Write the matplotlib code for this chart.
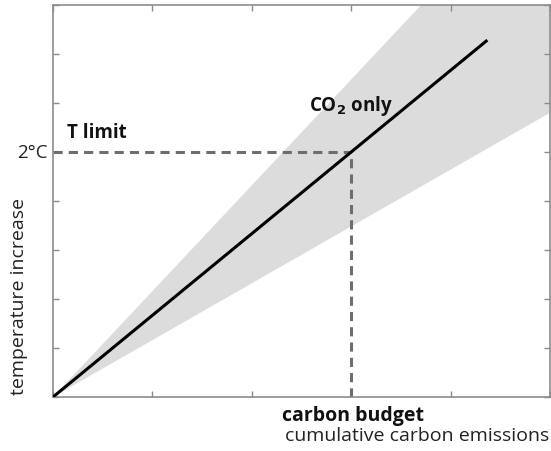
import numpy as np
import matplotlib
matplotlib.use("Agg")
import matplotlib.pyplot as plt

plt.rcParams['font.family'] = ['Open Sans', 'DejaVu Sans']

# data (conceptual chart, in axis units)
x_max, y_max = 5, 8
co2_line_x = [0, 4.37]
co2_slope = 5 / 3
band_x = [0, 5]
band_upper_slope = 2.16
band_lower_slope = 1.16
t_limit = 5
carbon_budget = 3
x_ticks = [0, 1, 2, 3, 4, 5]
y_ticks = [0, 1, 2, 3, 4, 5, 6, 7, 8]

fig = plt.figure(figsize=(5.51, 4.52), dpi=100)
ax = fig.add_axes([53/551, 54/452, 497/551, 392/452])

bx = np.array(band_x, dtype=float)
ax.fill_between(bx, bx * band_lower_slope, bx * band_upper_slope,
                color='#dcdcdc', linewidth=0, zorder=1)
lx = np.array(co2_line_x, dtype=float)
ax.plot(lx, lx * co2_slope, color='black', linewidth=2.2, zorder=3,
        solid_capstyle='butt')

ax.plot([0, carbon_budget], [t_limit, t_limit], color='#6e6e6e',
        linewidth=2.2, dashes=(3, 2), zorder=2)
ax.plot([carbon_budget, carbon_budget], [0, t_limit], color='#6e6e6e',
        linewidth=2.2, dashes=(3, 2), zorder=2)

ax.set_xlim(0, x_max)
ax.set_ylim(0, y_max)
ax.set_xticks(x_ticks)
ax.set_yticks(y_ticks)
ax.set_xticklabels([])
ax.set_yticklabels([])
ax.tick_params(direction='in', length=4, width=1, color='#8c8c8c',
               top=True, right=True)
for s in ax.spines.values():
    s.set_color('#8c8c8c')
    s.set_linewidth(1.2)

ax.text(-0.05, t_limit, '2°C', ha='right', va='center', fontsize=13.5,
        color='#222222')
ax.text(0.14, t_limit + 0.2, 'T limit', ha='left', va='bottom', fontsize=13.5,
        fontweight='bold', color='#111111')
ax.text(2.58, 5.72, 'CO$_\\mathbf{2}$ only', ha='left', va='bottom',
        fontsize=13.5, fontweight='bold', color='#111111')
ax.text(carbon_budget + 0.02, -0.16, 'carbon budget', ha='center', va='top',
        fontsize=14, fontweight='bold', color='#111111', clip_on=False)
ax.text(4.99, -0.6, 'cumulative carbon emissions', ha='right', va='top',
        fontsize=14, color='#222222', clip_on=False)
ax.text(-0.34, 2.07, 'temperature increase', ha='center', va='center',
        rotation=90, fontsize=14, color='#222222', clip_on=False)

fig.savefig('out.png', dpi=100)
